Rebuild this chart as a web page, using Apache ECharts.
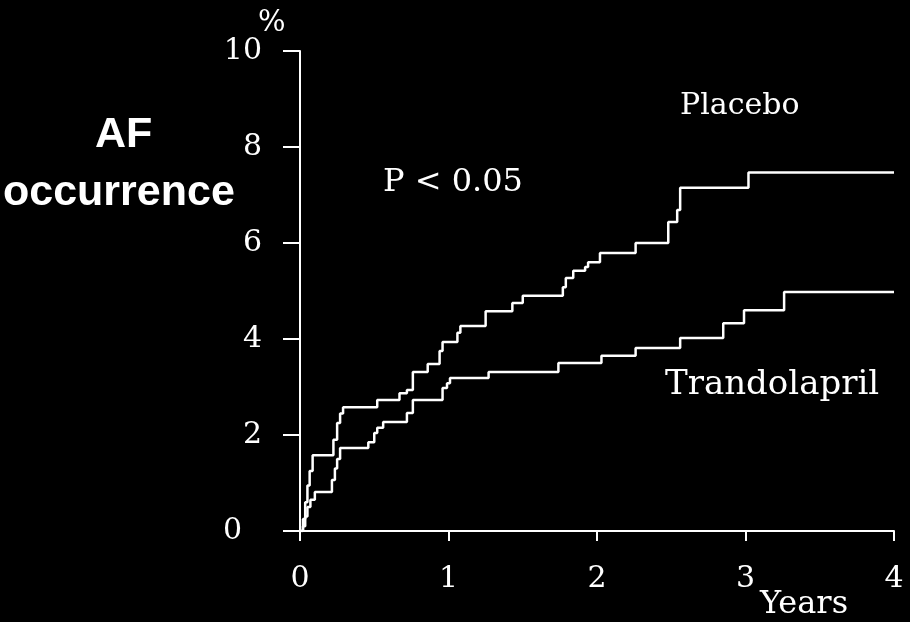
<!DOCTYPE html>
<html>
<head>
<meta charset="utf-8">
<script src="https://cdn.jsdelivr.net/npm/echarts@6/dist/echarts.min.js"></script>
<style>
  html, body { margin: 0; padding: 0; background: #000; }
  #main { width: 910px; height: 622px; }
</style>
</head>
<body>
<div id="main"></div>
<script>
// Kaplan-Meier style step curves, [years, %]
var placebo = [
    [0, 0], [0.02, 0.25], [0.035, 0.6], [0.05, 0.95], [0.065, 1.25], [0.085, 1.58],
    [0.225, 1.9], [0.25, 2.25], [0.27, 2.45], [0.29, 2.58],
    [0.52, 2.73], [0.67, 2.87], [0.72, 2.94], [0.76, 3.31], [0.86, 3.48],
    [0.94, 3.75], [0.96, 3.94], [1.06, 4.13], [1.08, 4.27], [1.25, 4.58],
    [1.43, 4.75], [1.50, 4.9], [1.77, 5.08], [1.79, 5.27], [1.84, 5.42],
    [1.92, 5.5], [1.94, 5.6], [2.02, 5.79], [2.26, 6.0], [2.48, 6.44],
    [2.54, 6.69], [2.56, 7.15], [3.02, 7.47], [4.0, 7.47]
];
var trandolapril = [
    [0, 0], [0.02, 0.1], [0.035, 0.3], [0.05, 0.5], [0.07, 0.65], [0.1, 0.81],
    [0.215, 1.06], [0.235, 1.3], [0.25, 1.5], [0.27, 1.73],
    [0.46, 1.85], [0.50, 2.04], [0.52, 2.15], [0.56, 2.27], [0.72, 2.46],
    [0.76, 2.73], [0.96, 2.98], [0.99, 3.08], [1.01, 3.19], [1.27, 3.31],
    [1.74, 3.5], [2.03, 3.65], [2.26, 3.81], [2.56, 4.02], [2.85, 4.33],
    [2.99, 4.6], [3.26, 4.98], [4.0, 4.98]
];
var yTicks = [0, 2, 4, 6, 8, 10];
var xTicks = [0, 1, 2, 3, 4];

var serif = 'DejaVu Serif';
var myChart = echarts.init(document.getElementById('main'));

var option = {
    backgroundColor: '#000',
    animation: false,
    grid: { left: 300, right: 16, top: 51, bottom: 91 },
    xAxis: {
        type: 'value',
        min: xTicks[0],
        max: xTicks[xTicks.length - 1],
        interval: 1,
        splitLine: { show: false },
        axisLine: { lineStyle: { color: '#fff', width: 2 } },
        axisTick: { length: 10, lineStyle: { color: '#fff', width: 2 } },
        axisLabel: { color: '#fff', fontFamily: serif, fontSize: 30, margin: 33 }
    },
    yAxis: {
        type: 'value',
        min: yTicks[0],
        max: yTicks[yTicks.length - 1],
        interval: 2,
        splitLine: { show: false },
        axisLine: { show: true, lineStyle: { color: '#fff', width: 2 } },
        axisTick: { show: true, length: 17, lineStyle: { color: '#fff', width: 2 } },
        axisLabel: {
            color: '#fff', fontFamily: serif, fontSize: 30, margin: 38,
            formatter: function (v) { return v === 0 ? '{z|0}' : String(v); },
            rich: { z: { color: '#fff', fontFamily: serif, fontSize: 30, padding: [0, 20, 0, 0] } }
        }
    },
    graphic: [
        { type: 'text', left: 258, top: 9, style: { text: '%', fill: '#fff', font: '29px "DejaVu Serif"' } },
        { type: 'text', left: 95, top: 114, style: { text: 'AF', fill: '#fff', font: 'bold 43px "Liberation Sans", Arial' } },
        { type: 'text', left: 3, top: 172, style: { text: 'occurrence', fill: '#fff', font: 'bold 43px "Liberation Sans", Arial' } },
        { type: 'text', left: 383, top: 167, style: { text: 'P < 0.05', fill: '#fff', font: '32px "DejaVu Serif"' } },
        { type: 'text', left: 680, top: 91, style: { text: 'Placebo', fill: '#fff', font: '30px "DejaVu Serif"' } },
        { type: 'text', left: 665, top: 368, style: { text: 'Trandolapril', fill: '#fff', font: '34px "DejaVu Serif"' } },
        { type: 'text', left: 760, top: 589, style: { text: 'Years', fill: '#fff', font: '32px "DejaVu Serif"' } }
    ],
    series: [
        {
            name: 'Placebo',
            type: 'line',
            step: 'end',
            data: placebo,
            symbol: 'none',
            lineStyle: { color: '#fff', width: 2.5 }
        },
        {
            name: 'Trandolapril',
            type: 'line',
            step: 'end',
            data: trandolapril,
            symbol: 'none',
            lineStyle: { color: '#fff', width: 2.5 }
        }
    ]
};

myChart.setOption(option);
</script>
</body>
</html>
